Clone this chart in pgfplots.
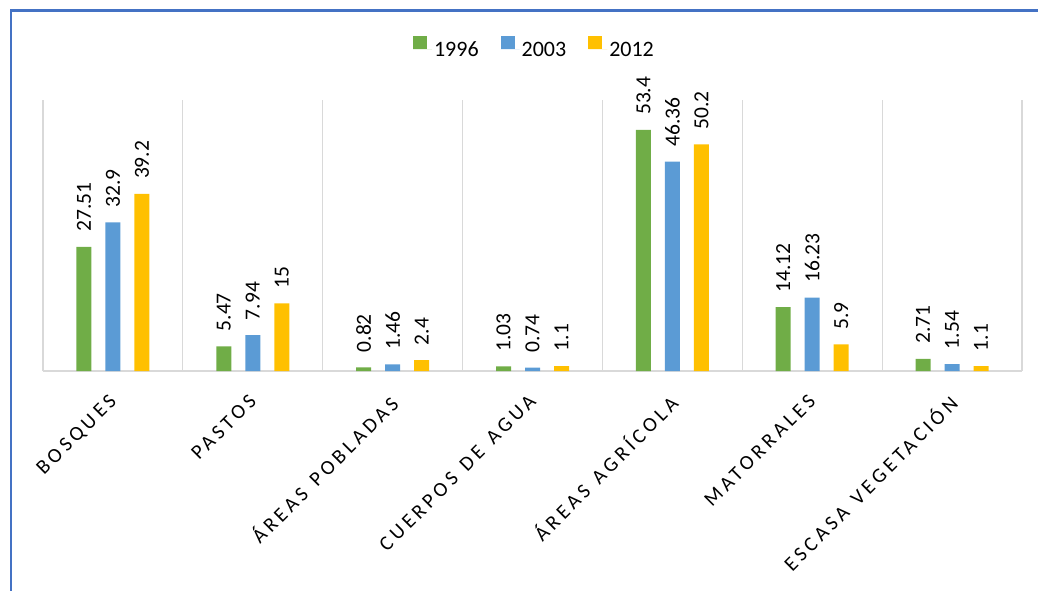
\documentclass[border=0pt]{standalone}
\usepackage{fontspec}
\setmainfont{Carlito}
\newfontfamily\spaced[LetterSpace=19, WordSpace=1.3]{Carlito}
\usepackage{pgfplots}
\pgfplotsset{compat=1.18}
\definecolor{cgreen}{HTML}{70AD47}
\definecolor{cblue}{HTML}{5B9BD5}
\definecolor{cyellow}{HTML}{FFC000}
\definecolor{cgrid}{HTML}{D9D9D9}
\definecolor{cframe}{HTML}{4472C4}
\begin{document}
\begin{tikzpicture}
\useasboundingbox (0,0) rectangle (1038pt,590pt);
\begin{axis}[
  at={(43pt,219pt)}, anchor=south west,
  scale only axis, width=979pt, height=271pt,
  ybar=14pt, bar width=15pt,
  xmin=-0.5, xmax=6.5, ymin=0, ymax=60,
  clip=false,
  axis y line=none, axis x line=bottom,
  x axis line style={draw=cgrid, line width=1.2pt, -},
  xtick={0,...,6},
  xticklabels={BOSQUES, PASTOS, ÁREAS POBLADAS, CUERPOS DE AGUA, ÁREAS AGRÍCOLA, MATORRALES, ESCASA VEGETACIÓN},
  major tick length=0pt, minor tick length=0pt,
  minor xtick={-0.5,0.5,1.5,2.5,3.5,4.5,5.5,6.5},
  xminorgrids=true, minor grid style={draw=cgrid, line width=1.2pt},
  xticklabel style={font=\spaced\fontsize{20.5}{24}\selectfont, rotate=45, anchor=north east, inner sep=0pt, xshift=-7pt},
  xticklabel shift=17pt,
  /pgf/number format/assume math mode=true,
  nodes near coords,
  nodes near coords style={font=\fontsize{21.5}{25}\selectfont, color=black, rotate=90, anchor=west, inner xsep=0pt, inner ysep=0pt},
  every node near coord/.append style={outer xsep=15pt},
  legend style={at={(0.502,1.192)}, anchor=center, draw=none, fill=none,
    font=\fontsize{22}{26}\selectfont, legend columns=-1,
    /tikz/every even column/.append style={column sep=20pt}},
]
\addplot[fill=cgreen, draw=none, legend image code/.code={\fill[cgreen] (0pt,0.5pt) rectangle (14pt,13.5pt);\path (0pt,0pt) -- (19pt,0pt);}]
  coordinates {(0,27.51) (1,5.47) (2,0.82) (3,1.03) (4,53.4) (5,14.12) (6,2.71)};
\addplot[fill=cblue, draw=none, legend image code/.code={\fill[cblue] (0pt,0.5pt) rectangle (14pt,13.5pt);\path (0pt,0pt) -- (19pt,0pt);}]
  coordinates {(0,32.9) (1,7.94) (2,1.46) (3,0.74) (4,46.36) (5,16.23) (6,1.54)};
\addplot[fill=cyellow, draw=none, legend image code/.code={\fill[cyellow] (0pt,0.5pt) rectangle (14pt,13.5pt);\path (0pt,0pt) -- (19pt,0pt);}]
  coordinates {(0,39.2) (1,15) (2,2.4) (3,1.1) (4,50.2) (5,5.9) (6,1.1)};
\legend{1996,2003,2012}
\end{axis}
\draw[draw=cframe, line width=2.5pt] (11pt,-5pt) -- (11pt,579.5pt) -- (1045pt,579.5pt);
\end{tikzpicture}
\end{document}
